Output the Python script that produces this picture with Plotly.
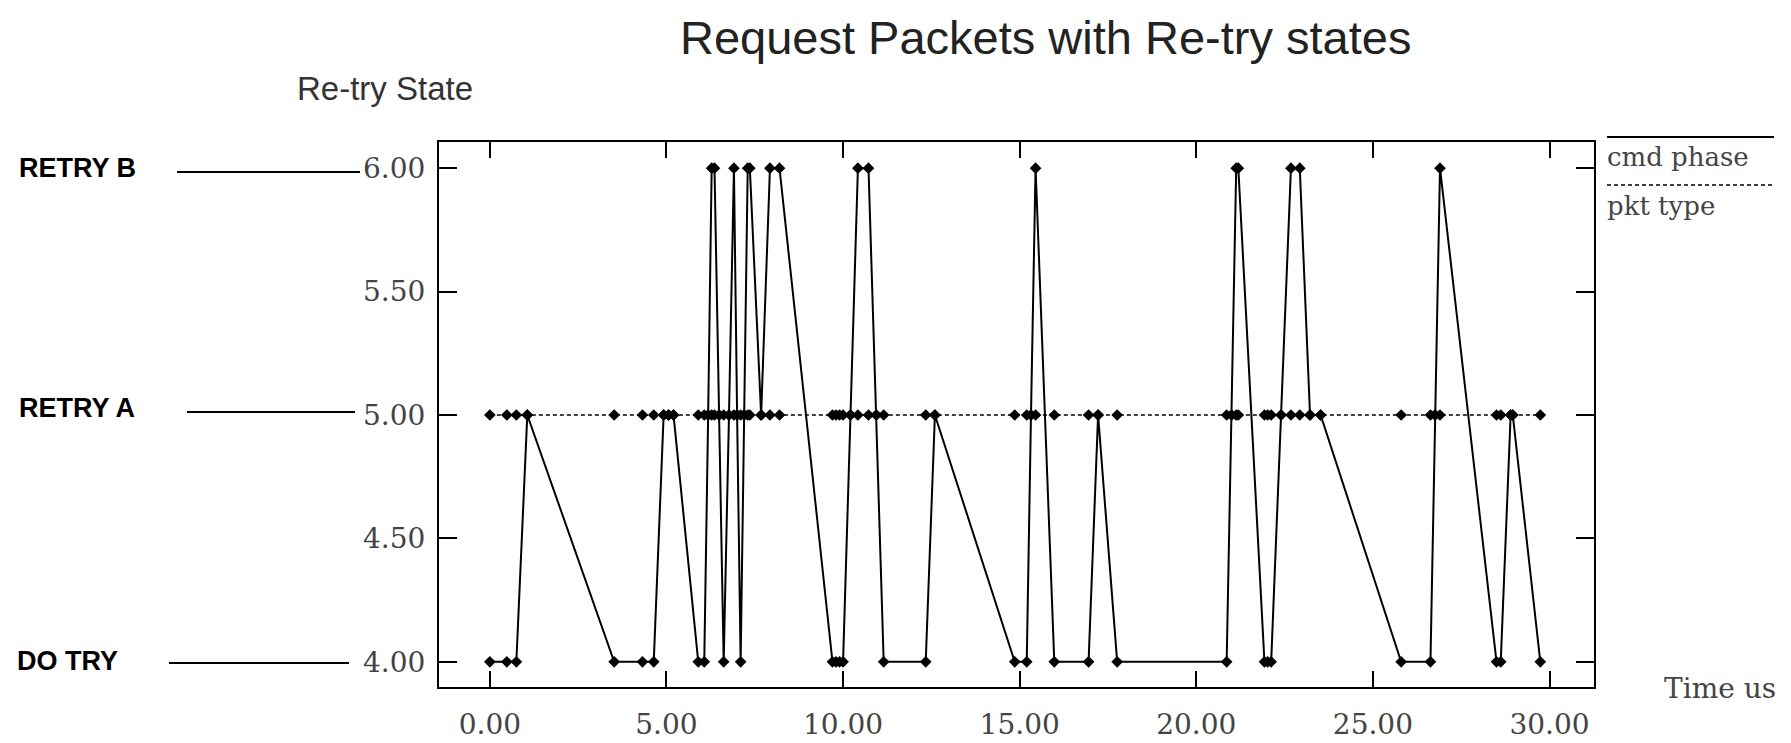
import plotly.graph_objects as go

# ---------------- data ----------------
time_us = [0.00, 0.48, 0.75, 1.06, 3.52, 4.32, 4.64, 4.92, 5.06, 5.20,
           5.90, 6.07, 6.18, 6.28, 6.36, 6.49, 6.62, 6.77, 6.91, 7.00,
           7.10, 7.20, 7.30, 7.36, 7.68, 7.93, 8.20, 9.70, 9.80, 9.90,
           10.00, 10.21, 10.42, 10.72, 10.94, 11.15, 12.34, 12.60, 14.86, 15.20,
           15.32, 15.45, 15.98, 16.95, 17.22, 17.76, 20.86, 21.00, 21.13, 21.19,
           21.93, 22.02, 22.12, 22.40, 22.68, 22.93, 23.22, 23.52, 25.80, 26.63,
           26.76, 26.90, 28.50, 28.62, 28.90, 28.96, 29.74]

cmd_phase = [4, 4, 4, 5, 4, 4, 4, 5, 5, 5,
             4, 4, 5, 6, 6, 5, 4, 5, 6, 5,
             4, 5, 6, 6, 5, 6, 6, 4, 4, 4,
             4, 5, 6, 6, 5, 4, 4, 5, 4, 4,
             5, 6, 4, 4, 5, 4, 4, 5, 6, 6,
             4, 4, 4, 5, 6, 6, 5, 5, 4, 4,
             5, 6, 4, 4, 5, 5, 4]

pkt_type = [5, 5, 5, 5, 5, 5, 5, 5, 5, 5,
            5, 5, 5, 5, 5, 5, 5, 5, 5, 5,
            5, 5, 5, 5, 5, 5, 5, 5, 5, 5,
            5, 5, 5, 5, 5, 5, 5, 5, 5, 5,
            5, 5, 5, 5, 5, 5, 5, 5, 5, 5,
            5, 5, 5, 5, 5, 5, 5, 5, 5, 5,
            5, 5, 5, 5, 5, 5, 5]

state_labels = ["RETRY B", "RETRY A", "DO TRY"]
series_names = ["cmd phase", "pkt type"]
x_ticks = [0, 5, 10, 15, 20, 25, 30]
y_ticks = [4.0, 4.5, 5.0, 5.5, 6.0]

# ---------------- layout geometry (page pixels) ----------------
OFF = 8                      # default body margin of the html page
W, H = 1791 - OFF, 743 - OFF
L, R, T, B = 439, 1594, 142, 687   # plot frame in page pixels


def px(x):
    return (x - L) / (R - L)


def py(y):
    return (B - y) / (B - T)


SERIF = "DejaVu Serif, serif"
SANS = "Liberation Sans, Arial, sans-serif"

fig = go.Figure()
fig.add_trace(go.Scatter(
    x=time_us, y=pkt_type, name=series_names[1], mode="lines+markers",
    line=dict(color="black", width=1.6, dash="4px,3px"),
    marker=dict(symbol="diamond", size=9, color="black"),
))
fig.add_trace(go.Scatter(
    x=time_us, y=cmd_phase, name=series_names[0], mode="lines+markers",
    line=dict(color="black", width=2),
    marker=dict(symbol="diamond", size=9, color="black"),
))

axis_common = dict(
    showgrid=False, zeroline=False, showline=True, linecolor="black",
    linewidth=2, mirror="ticks", ticks="inside", tickwidth=2,
    tickcolor="black", tickformat=".2f",
    tickfont=dict(family=SERIF, size=28, color="#444"),
)

fig.update_xaxes(range=[-1.44, 31.26], tickvals=x_ticks, ticklen=16,
                 ticklabelstandoff=11, **axis_common)
fig.update_yaxes(range=[3.898, 6.106], tickvals=y_ticks, ticklen=18,
                 ticklabelstandoff=6, **axis_common)

annotations = []
shapes = []

# title
annotations.append(dict(
    text="Request Packets with Re-try states", xref="paper", yref="paper",
    x=px(1045), y=py(37), xanchor="center", yanchor="middle",
    showarrow=False, font=dict(family=SANS, size=47, color="#222")))
# y axis title
annotations.append(dict(
    text="Re-try State", xref="paper", yref="paper",
    x=px(295), y=py(88), xanchor="left", yanchor="middle",
    showarrow=False, font=dict(family=SANS, size=33, color="#333")))
# x axis title
annotations.append(dict(
    text="Time us", xref="paper", yref="paper",
    x=px(1662), y=py(689), xanchor="left", yanchor="middle",
    showarrow=False, font=dict(family=SERIF, size=28, color="#444")))

# state labels with leader lines
label_pos = [(17, 168, 177, 360, 172), (17, 408, 187, 355, 412), (15, 661, 169, 349, 663)]
for txt, (tx, ty, lx0, lx1, ly) in zip(state_labels, label_pos):
    annotations.append(dict(
        text="<b>%s</b>" % txt, xref="paper", yref="paper",
        x=px(tx), y=py(ty), xanchor="left", yanchor="middle",
        showarrow=False, font=dict(family=SANS, size=27, color="black")))
    shapes.append(dict(type="line", xref="paper", yref="paper",
                       x0=px(lx0), x1=px(lx1), y0=py(ly), y1=py(ly),
                       line=dict(color="black", width=2)))

# legend (custom)
shapes.append(dict(type="line", xref="paper", yref="paper",
                   x0=px(1607), x1=px(1774), y0=py(137), y1=py(137),
                   line=dict(color="black", width=2)))
shapes.append(dict(type="line", xref="paper", yref="paper",
                   x0=px(1607), x1=px(1774), y0=py(185), y1=py(185),
                   line=dict(color="black", width=1.6, dash="4px,3px")))
annotations.append(dict(
    text=series_names[0], xref="paper", yref="paper",
    x=px(1605), y=py(157), xanchor="left", yanchor="middle",
    showarrow=False, font=dict(family=SERIF, size=26, color="#444")))
annotations.append(dict(
    text=series_names[1], xref="paper", yref="paper",
    x=px(1605), y=py(206), xanchor="left", yanchor="middle",
    showarrow=False, font=dict(family=SERIF, size=26, color="#444")))

fig.update_layout(
    width=W, height=H,
    margin=dict(l=L - OFF, r=W - (R - OFF), t=T - OFF, b=H - (B - OFF),
                autoexpand=False),
    paper_bgcolor="white", plot_bgcolor="white",
    showlegend=False,
    annotations=annotations, shapes=shapes,
)

fig.write_html("out.html")
